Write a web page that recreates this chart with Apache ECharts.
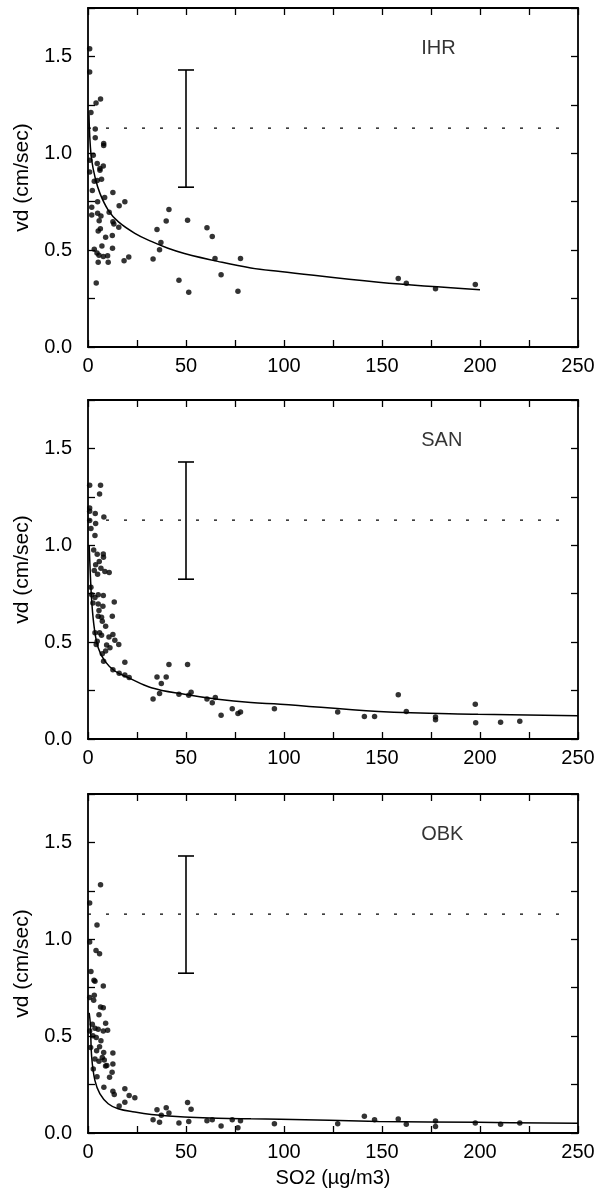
<!DOCTYPE html>
<html><head><meta charset="utf-8">
<script src="https://cdn.jsdelivr.net/npm/echarts@6/dist/echarts.min.js"></script>
<style>html,body{margin:0;padding:0;background:#fff}#c{width:598px;height:1198px}</style>
</head><body><div id="c"></div>
<script>
const stations = ['IHR', 'SAN', 'OBK'];
const xTickLabels = ['0', '50', '100', '150', '200', '250'];
const yTickLabels = ['0.0', '0.5', '1.0', '1.5'];
const xAxisName = 'SO2 (µg/m3)';
const yAxisName = 'vd (cm/sec)';

// Measured points [SO2, vd]
const ihrPoints = [
  [0.85,1.54],[0.85,1.42],[4.1,1.26],[6.4,1.28],[1.5,1.21],[3.7,1.125],[3.7,1.08],[8.0,1.05],[8.0,1.04],
  [2.7,0.99],[1.0,0.964],[4.7,0.947],[6.1,0.921],[7.8,0.935],[0.85,0.904],[6.1,0.913],[3.2,0.856],[4.7,0.86],
  [6.9,0.866],[2.2,0.808],[8.5,0.772],[12.7,0.798],[4.9,0.75],[1.9,0.721],[18.8,0.75],[15.9,0.729],[1.9,0.681],
  [4.9,0.69],[6.6,0.676],[10.8,0.695],[12.7,0.647],[13.2,0.635],[5.7,0.652],[15.7,0.618],[6.3,0.611],[5.2,0.599],
  [9.0,0.567],[12.4,0.575],[7.1,0.522],[12.5,0.51],[3.2,0.505],[4.6,0.485],[5.6,0.474],[7.8,0.467],[10.0,0.471],
  [5.2,0.437],[10.3,0.437],[18.4,0.445],[20.8,0.464],[4.2,0.33],[33.2,0.454],[36.5,0.502],[37.2,0.539],[35.2,0.606],
  [39.9,0.651],[41.3,0.71],[50.8,0.654],[46.4,0.344],[51.4,0.283],[60.7,0.615],[63.4,0.57],[64.8,0.457],[67.9,0.373],
  [76.5,0.288],[77.8,0.457],[158.3,0.354],[162.4,0.329],[177.3,0.301],[197.6,0.322]
];
const sanPoints = [
  [0.85,1.31],[6.4,1.31],[5.9,1.265],[0.85,1.193],[0.85,1.176],[3.7,1.164],[8.1,1.146],[0.85,1.128],[3.9,1.113],
  [1.5,1.087],[3.55,1.051],[2.9,0.976],[4.7,0.954],[7.8,0.955],[7.9,0.938],[5.75,0.916],[3.9,0.899],[6.6,0.882],
  [3.2,0.87],[4.9,0.851],[8.6,0.865],[10.8,0.86],[1.5,0.783],[1.9,0.745],[3.55,0.731],[5.2,0.745],[7.8,0.741],
  [2.5,0.702],[5.2,0.697],[7.6,0.685],[13.4,0.707],[5.6,0.663],[5.2,0.634],[6.9,0.628],[12.4,0.634],[7.3,0.608],
  [9.0,0.582],[3.55,0.548],[5.9,0.548],[6.9,0.536],[10.7,0.526],[12.7,0.539],[13.7,0.51],[4.7,0.505],[4.2,0.488],
  [9.5,0.485],[15.7,0.488],[11.2,0.471],[9.0,0.454],[7.3,0.44],[7.95,0.402],[18.8,0.396],[12.7,0.358],[15.9,0.339],
  [18.8,0.33],[21.0,0.317],[33.2,0.207],[35.2,0.32],[36.5,0.235],[37.4,0.286],[39.9,0.32],[41.3,0.385],[50.8,0.385],
  [46.4,0.231],[51.4,0.226],[52.6,0.241],[60.7,0.207],[63.4,0.187],[64.96,0.214],[67.9,0.122],[73.6,0.156],
  [76.5,0.132],[77.8,0.14],[95.1,0.156],[127.4,0.14],[141.0,0.116],[146.2,0.116],[158.3,0.229],[162.4,0.142],
  [177.3,0.113],[177.3,0.099],[197.6,0.18],[197.8,0.084],[210.5,0.086],[220.3,0.092]
];
const obkPoints = [
  [6.4,1.281],[0.85,1.187],[4.6,1.074],[0.85,0.986],[4.1,0.942],[5.9,0.925],[1.5,0.834],[3.05,0.788],[3.55,0.784],
  [7.8,0.759],[0.85,0.699],[3.2,0.711],[2.9,0.685],[6.4,0.651],[7.8,0.647],[5.6,0.61],[9.0,0.567],[2.2,0.562],
  [3.55,0.541],[5.2,0.536],[10.0,0.531],[0.85,0.527],[7.8,0.527],[2.5,0.502],[4.2,0.493],[6.6,0.476],[1.35,0.442],
  [5.9,0.445],[4.4,0.425],[8.0,0.416],[12.7,0.413],[7.3,0.39],[3.55,0.382],[5.6,0.37],[8.3,0.377],[9.6,0.348],
  [12.7,0.356],[2.7,0.33],[8.97,0.346],[12.3,0.313],[4.6,0.291],[11.0,0.288],[8.1,0.236],[12.7,0.216],[13.4,0.199],
  [18.8,0.228],[21.0,0.193],[23.9,0.182],[15.9,0.14],[18.8,0.159],[33.2,0.068],[35.2,0.12],[36.5,0.055],[37.4,0.091],
  [39.9,0.13],[41.3,0.103],[46.4,0.051],[50.8,0.158],[51.4,0.06],[52.6,0.122],[60.7,0.063],[63.4,0.068],[67.9,0.036],
  [73.6,0.068],[76.5,0.027],[77.8,0.063],[95.1,0.048],[127.4,0.048],[141.0,0.086],[146.2,0.068],[158.3,0.072],
  [162.4,0.045],[177.3,0.062],[177.3,0.034],[197.6,0.051],[210.5,0.045],[220.3,0.051]
];

// Fitted curves
const ihrFit = [
  [0.5,1.2],[1.0,1.067],[1.9,0.964],[3.55,0.878],[6.1,0.793],[10.3,0.707],[15.4,0.647],[23.9,0.587],[32.3,0.545],
  [40.8,0.51],[49.2,0.483],[66.2,0.442],[83.1,0.408],[98.1,0.39],[148.2,0.334],[200,0.296]
];
const sanFit = [
  [0.6,1.0],[1.2,0.848],[1.9,0.711],[3.2,0.574],[5.2,0.471],[8.6,0.402],[13.7,0.351],[20.5,0.317],[32.3,0.265],
  [49.2,0.231],[66.2,0.205],[83.1,0.188],[98.1,0.18],[148.2,0.142],[199,0.128],[250,0.12]
];
const obkFit = [
  [0.6,0.62],[1.2,0.562],[1.9,0.39],[3.55,0.27],[6.1,0.202],[10.3,0.151],[15.4,0.125],[23.9,0.108],[32.3,0.096],
  [49.2,0.082],[66.2,0.076],[83.1,0.073],[98.1,0.071],[148.2,0.06],[199,0.055],[250,0.05]
];

const refLevel = [1.13, 1.13, 1.13];
const refLineRange = [0, 243];
const errBar = [50, 0.825, 1.43];   // x, low, high
const labelPos = [170, 1.54];

const pointSets = [ihrPoints, sanPoints, obkPoints];
const fitSets = [ihrFit, sanFit, obkFit];

const FONT = 'Liberation Sans, Arial, sans-serif';
const tops = [8, 400, 794];
const H = 339;

const grid = [], xAxis = [], yAxis = [], series = [];
const tickStyle = { inside: true, length: 7, lineStyle: { color: '#000', width: 1.3 } };
const lineStyleAxis = { show: true, onZero: false, lineStyle: { color: '#000', width: 1.8 } };

for (let i = 0; i < 3; i++) {
  grid.push({ left: 88, right: 20, top: tops[i], height: H });
  const xBase = {
    type: 'value', gridIndex: i, min: 0, max: 250, interval: 25,
    axisLine: lineStyleAxis, axisTick: tickStyle, splitLine: { show: false }
  };
  xAxis.push(Object.assign({}, xBase, {
    position: 'bottom',
    axisLabel: {
      color: '#000', fontSize: 20, fontFamily: FONT, margin: 9,
      formatter: v => { const k = xTickLabels.indexOf(String(v)); return k >= 0 ? xTickLabels[k] : ''; }
    },
    name: i === 2 ? xAxisName : '', nameLocation: 'middle', nameGap: 35,
    nameTextStyle: { color: '#000', fontSize: 20, fontFamily: FONT }
  }));
  xAxis.push(Object.assign({}, xBase, { position: 'top', axisLabel: { show: false } }));
  const yBase = {
    type: 'value', gridIndex: i, min: 0, max: 1.75, interval: 0.25,
    axisLine: lineStyleAxis, axisTick: tickStyle, splitLine: { show: false }
  };
  yAxis.push(Object.assign({}, yBase, {
    position: 'left',
    axisLabel: {
      color: '#000', fontSize: 20, fontFamily: FONT, margin: 16,
      formatter: v => { const s = v.toFixed(1); return (Math.abs(v * 2 - Math.round(v * 2)) < 1e-6 && yTickLabels.indexOf(s) >= 0) ? s : ''; }
    },
    name: yAxisName, nameLocation: 'middle', nameGap: 55,
    nameTextStyle: { color: '#000', fontSize: 21, fontFamily: FONT }
  }));
  yAxis.push(Object.assign({}, yBase, { position: 'right', axisLabel: { show: false } }));

  const xi = 2 * i, yi = 2 * i;
  series.push({
    type: 'line', xAxisIndex: xi, yAxisIndex: yi, data: [[refLineRange[0], refLevel[i]], [refLineRange[1], refLevel[i]]],
    symbol: 'none', silent: true, lineStyle: { color: '#000', width: 1.3, type: [3, 15] }, z: 1
  });
  series.push({
    type: 'custom', xAxisIndex: xi, yAxisIndex: yi, data: [errBar], encode: { x: 0, y: [1, 2] },
    renderItem: (params, api) => {
      const hi = api.coord([api.value(0), api.value(2)]);
      const lo = api.coord([api.value(0), api.value(1)]);
      const w = 8, st = { stroke: '#000', lineWidth: 1.6 };
      return { type: 'group', children: [
        { type: 'line', shape: { x1: hi[0], y1: hi[1], x2: lo[0], y2: lo[1] }, style: st },
        { type: 'line', shape: { x1: hi[0] - w, y1: hi[1], x2: hi[0] + w, y2: hi[1] }, style: st },
        { type: 'line', shape: { x1: lo[0] - w, y1: lo[1], x2: lo[0] + w, y2: lo[1] }, style: st }
      ] };
    }, z: 2
  });
  series.push({
    type: 'line', xAxisIndex: xi, yAxisIndex: yi, data: fitSets[i], smooth: 0.4, symbol: 'none',
    lineStyle: { color: '#000', width: 1.5 }, z: 3
  });
  series.push({
    type: 'scatter', xAxisIndex: xi, yAxisIndex: yi, data: pointSets[i], symbol: 'circle', symbolSize: 5.5,
    itemStyle: { color: '#000' }, z: 4
  });
  series.push({
    type: 'scatter', xAxisIndex: xi, yAxisIndex: yi, data: [labelPos], symbolSize: 0, silent: true,
    label: { show: true, position: 'right', distance: 0, formatter: stations[i], color: '#000', fontSize: 20, fontFamily: FONT }
  });
}

const chart = echarts.init(document.getElementById('c'), null, { renderer: 'canvas' });
chart.setOption({ animation: false, backgroundColor: '#fff', grid, xAxis, yAxis, series });
</script>
</body></html>
